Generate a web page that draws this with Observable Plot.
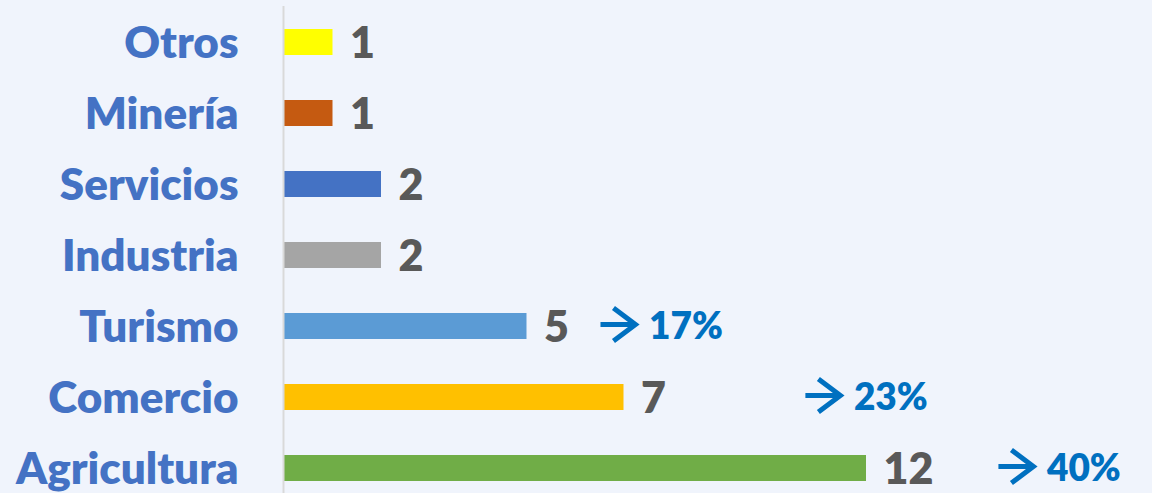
<!DOCTYPE html>
<html>
<head>
<meta charset="utf-8">
<script src="https://cdn.jsdelivr.net/npm/d3@7"></script>
<script src="https://cdn.jsdelivr.net/npm/@observablehq/plot@0.6"></script>
<style>
  html, body { margin: 0; padding: 0; background: #F0F4FC; }
  #chart svg { display: block; }
</style>
</head>
<body>
<div id="chart"></div>
<script>
const categories = ["Otros", "Minería", "Servicios", "Industria", "Turismo", "Comercio", "Agricultura"];
const values = [1, 1, 2, 2, 5, 7, 12];
const colors = ["#FFFF00", "#C55A11", "#4472C4", "#A5A5A5", "#5B9BD5", "#FFC000", "#70AD47"];
const shareCategories = ["Turismo", "Comercio", "Agricultura"];
const shareLabels = ["17%", "23%", "40%"];

const rows = categories.map((c, i) => ({cat: c, value: values[i], color: colors[i]}));
// horizontal placement of the share annotations (layout only, in x units)
const shareStart = {"Turismo": 6.515, "Comercio": 10.74, "Agricultura": 14.72};
const shares = shareCategories.map((c, i) => ({cat: c, start: shareStart[c], label: shareLabels[i]}));

// open chevron arrow shape for Plot.vector (drawn pointing up, rotated to the right)
const chevronArrow = {
  draw(context, l) {
    const w = 16.5, h = 22;
    context.moveTo(0, 0);
    context.lineTo(0, -l + 2);
    context.moveTo(-w, -l + h);
    context.lineTo(0, -l);
    context.lineTo(w, -l + h);
  }
};

const font = "Lato, 'Open Sans', sans-serif";

const chart = Plot.plot({
  width: 1152,
  height: 493,
  marginTop: 6,
  marginBottom: 0,
  marginLeft: 284,
  marginRight: 0,
  style: {background: "transparent", fontFamily: font},
  x: {domain: [0, 12], range: [284, 866], axis: null},
  y: {domain: categories, range: [5.35, 504.65], paddingInner: 0.64, paddingOuter: 0.32, align: 0.5, axis: null},
  marks: [
    Plot.barX(rows, {x: "value", y: "cat", fill: "color"}),
    Plot.ruleX([0], {x: 0, dx: -1, stroke: "#D9D9D9", strokeWidth: 2}),
    Plot.text(rows, {x: 0, y: "cat", text: "cat", textAnchor: "end", dx: -46, dy: 1,
      fill: "#4472C4", fontSize: 44, fontWeight: 800, fontFamily: font}),
    Plot.text(rows, {x: "value", y: "cat", text: d => String(d.value), textAnchor: "start", dx: 17, dy: 2,
      fill: "#595959", fontSize: 43, fontWeight: 800, fontFamily: font}),
    Plot.vector(shares, {x: "start", y: "cat", length: 35, rotate: 90, anchor: "start", shape: chevronArrow,
      dy: -2, stroke: "#0070C0", strokeWidth: 5, strokeLinecap: "butt", strokeLinejoin: "miter"}),
    Plot.text(shares, {x: d => d.start + 1.0, y: "cat", text: "label", textAnchor: "start", dy: 1,
      fill: "#0070C0", fontSize: 37, fontWeight: 800, fontFamily: font})
  ]
});
document.getElementById("chart").append(chart);
</script>
</body>
</html>
